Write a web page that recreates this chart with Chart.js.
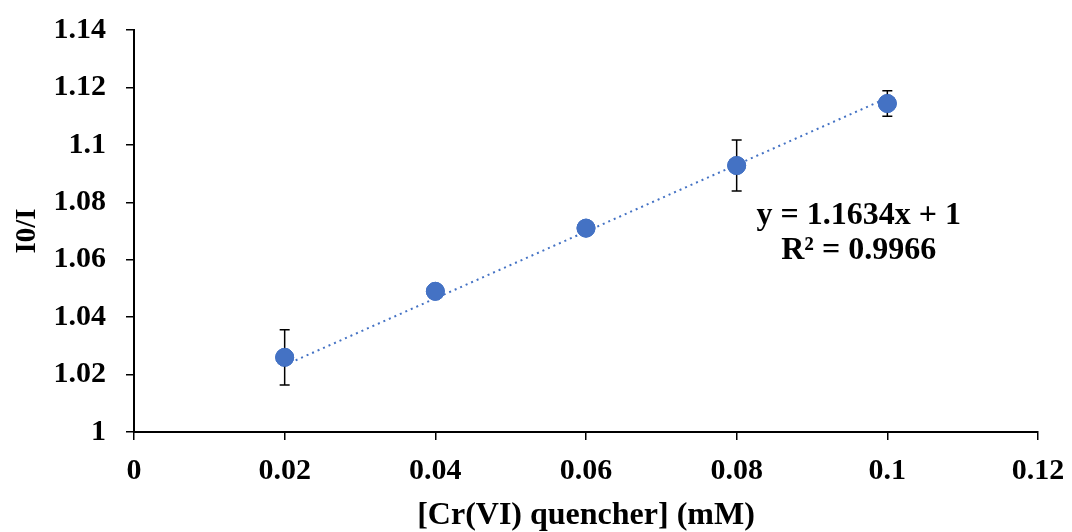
<!DOCTYPE html>
<html>
<head>
<meta charset="utf-8">
<script src="https://cdn.jsdelivr.net/npm/chart.js@4"></script>
<style>
  html, body { margin: 0; padding: 0; background: #fff; }
  #wrap { width: 1072px; height: 532px; }
</style>
</head>
<body>
<div id="wrap"><canvas id="myChart" width="1072" height="532"></canvas></div>
<script>
const concentrations = [0.02, 0.04, 0.06, 0.08, 0.1];
const ratios = [1.0260, 1.0490, 1.0710, 1.0928, 1.1144];
const errors = [0.0096, 0, 0, 0.0089, 0.0044];
const fitSlope = 1.1634;
const fitIntercept = 1;
const fitLabel = ['y = 1.1634x + 1', 'R\u00b2 = 0.9966'];
const labelAt = { x: 0.0962, y: [1.0752, 1.0632] };

const fontFamily = '"Liberation Serif", "Times New Roman", serif';
const blue = '#4472C4';

const points = concentrations.map((c, i) => ({ x: c, y: ratios[i] }));
const fitLine = [concentrations[0], concentrations[concentrations.length - 1]]
    .map(c => ({ x: c, y: fitSlope * c + fitIntercept }));

// error bars + equation text
const extras = {
    id: 'extras',
    afterDatasetsDraw(chart) {
        const ctx = chart.ctx;
        const xs = chart.scales.x, ys = chart.scales.y;
        ctx.save();
        ctx.strokeStyle = '#000';
        ctx.lineWidth = 1.5;
        concentrations.forEach((c, i) => {
            if (!errors[i]) return;
            const px = xs.getPixelForValue(c);
            const top = ys.getPixelForValue(ratios[i] + errors[i]);
            const bot = ys.getPixelForValue(ratios[i] - errors[i]);
            ctx.beginPath();
            ctx.moveTo(px, top); ctx.lineTo(px, bot);
            ctx.moveTo(px - 5, top); ctx.lineTo(px + 5, top);
            ctx.moveTo(px - 5, bot); ctx.lineTo(px + 5, bot);
            ctx.stroke();
        });
        // redraw markers on top of the bars
        chart.getDatasetMeta(1).data.forEach(el => el.draw(ctx));
        ctx.fillStyle = '#000';
        ctx.font = 'bold 32px ' + fontFamily;
        ctx.textAlign = 'center';
        ctx.textBaseline = 'middle';
        fitLabel.forEach((t, i) => {
            ctx.fillText(t, xs.getPixelForValue(labelAt.x), ys.getPixelForValue(labelAt.y[i]));
        });
        ctx.restore();
    }
};

const fmt = v => String(Number(v.toFixed(2)));
const tickFont = { family: fontFamily, size: 30, weight: 'bold' };

const ctx = document.getElementById('myChart').getContext('2d');
const myChart = new Chart(ctx, {
    type: 'scatter',
    data: {
        datasets: [{
            label: 'fit',
            data: fitLine,
            showLine: true,
            borderColor: blue,
            borderWidth: 2,
            borderDash: [2, 4],
            pointRadius: 0
        }, {
            label: 'I0/I',
            data: points,
            backgroundColor: blue,
            borderColor: blue,
            pointRadius: 9,
            pointHoverRadius: 9
        }]
    },
    options: {
        responsive: false,
        animation: false,
        events: [],
        layout: { padding: { top: 30, right: 34, bottom: 0, left: 0 } },
        plugins: { legend: { display: false }, tooltip: { enabled: false } },
        scales: {
            x: {
                type: 'linear',
                min: 0, max: 0.12,
                afterFit: s => { s.height = 100; s.paddingLeft = 0; s.paddingRight = 0; },
                ticks: {
                    stepSize: 0.02,
                    callback: fmt,
                    color: '#000',
                    padding: 13,
                    maxRotation: 0,
                    font: tickFont
                },
                grid: { drawOnChartArea: false, tickLength: 8, color: '#000', lineWidth: 1.5 },
                border: { color: '#000', width: 2 },
                title: {
                    display: true,
                    text: '[Cr(VI) quencher] (mM)',
                    color: '#000',
                    padding: { top: 0, bottom: 0 },
                    font: { family: fontFamily, size: 32, weight: 'bold', lineHeight: 1 }
                }
            },
            y: {
                type: 'linear',
                min: 1, max: 1.14,
                afterFit: s => { s.width = 134; s.paddingTop = 0; s.paddingBottom = 0; },
                ticks: {
                    stepSize: 0.02,
                    callback: fmt,
                    color: '#000',
                    padding: 20,
                    font: tickFont
                },
                grid: { drawOnChartArea: false, tickLength: 8, color: '#000', lineWidth: 1.5 },
                border: { color: '#000', width: 2 },
                title: {
                    display: true,
                    text: 'I0/I',
                    color: '#000',
                    padding: { top: 10, bottom: 0 },
                    font: { family: fontFamily, size: 29, weight: 'bold' }
                }
            }
        }
    },
    plugins: [extras]
});
</script>
</body>
</html>
